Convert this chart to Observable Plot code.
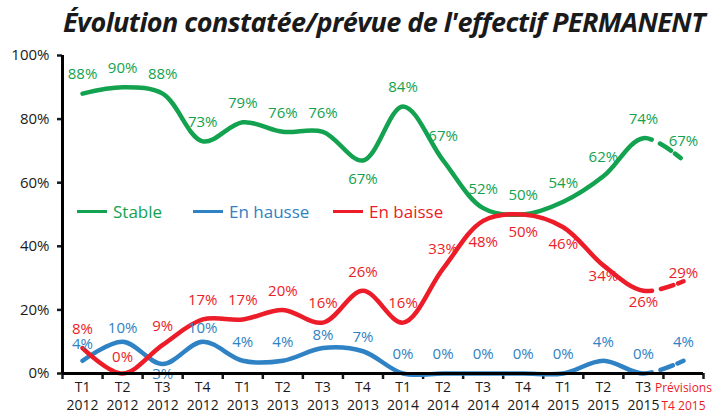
<!DOCTYPE html>
<html><head><meta charset="utf-8">
<script src="https://cdn.jsdelivr.net/npm/d3@7"></script>
<script src="https://cdn.jsdelivr.net/npm/@observablehq/plot@0.6"></script>
<style>
body{margin:0;background:#fff;font-family:"Open Sans",sans-serif;}
#wrap{position:relative;width:720px;height:416px;overflow:hidden;}
#title{position:absolute;top:3px;left:0;width:768px;text-align:center;font-size:27px;font-weight:700;font-style:italic;color:#1a1a1a;letter-spacing:-0.55px;white-space:nowrap;}
#chart{position:absolute;top:42px;left:0;}
#legend{position:absolute;top:200px;left:77px;font-size:17px;}
.item{position:absolute;top:0;white-space:nowrap;display:flex;align-items:center;}
.sw{display:inline-block;width:30px;height:3px;margin-right:6px;}
</style></head>
<body>
<div id="wrap">
<div id="title">Évolution constatée/prévue de l'effectif PERMANENT</div>
<div id="chart"></div>
<div id="legend"></div>
</div>
<script>
const categories = ["T1\n2012","T2\n2012","T3\n2012","T4\n2012","T1\n2013","T2\n2013","T3\n2013","T4\n2013","T1\n2014","T2\n2014","T3\n2014","T4\n2014","T1\n2015","T2\n2015","T3\n2015","Prévisions\nT4 2015"];
const seriesNames = ["Stable","En hausse","En baisse"];
const stable = [88,90,88,73,79,76,76,67,84,67,52,50,54,62,74,67];
const hausse = [4,10,3,10,4,4,8,7,0,0,0,0,0,4,0,4];
const baisse = [8,0,9,17,17,20,16,26,16,33,48,50,46,34,26,29];
const yTicks = [0,20,40,60,80,100];

const GREEN = "#13a24f", BLUE = "#2f82c4", RED = "#ec1c28";
const colors = [GREEN, BLUE, RED];
const values = [stable, hausse, baisse];
const n = categories.length;
const allIdx = d3.range(n);

// label placement (styling)
const belowSets = [[7], [2], [10,11,12,13,14]];
const dyBelow = {"0-7":19, "1-2":10, "2-10":21, "2-11":18, "2-12":17, "2-13":11, "2-14":11};
const dyAbove = {"2-1":-16, "2-15":-8, "1-1":-14, "1-3":-14, "1-6":-13, "1-7":-14, "1-0":-17, "2-0":-19, "0-9":-24};

const lineMarks = [], labelMarks = [];
values.forEach((vals, s) => {
  lineMarks.push(Plot.line(allIdx, {x: i => i, y: i => vals[i], curve: "catmull-rom", stroke: colors[s], strokeWidth: 4.5}));
  allIdx.forEach(i => {
    const key = s + "-" + i;
    const below = belowSets[s].includes(i);
    const dy = below ? (dyBelow[key] ?? 19) : (dyAbove[key] ?? -19);
    labelMarks.push(Plot.text([i], {x: i => i, y: i => vals[i], text: i => vals[i] + "%", fill: colors[s], fontSize: 15, dy}));
  });
});

const chart = Plot.plot({
  width: 720, height: 374,
  marginTop: 13, marginBottom: 43, marginLeft: 62, marginRight: 17,
  style: {fontFamily: "'Open Sans', sans-serif", background: "#fff", color: "#1a1a1a"},
  x: {domain: [-0.5, n - 0.5]},
  y: {domain: [0, 100]},
  marks: [
    Plot.axisY(yTicks, {tickFormat: d => d + "%", tickSize: 5, tickPadding: 8, fontSize: 15, strokeWidth: 2.5, fill: "#1a1a1a"}),
    Plot.axisX(d3.range(n - 1), {tickFormat: i => categories[i], tickSize: 0, tickPadding: 5, fontSize: 14, lineHeight: 1.33, fill: "#1a1a1a"}),
    Plot.axisX([n - 1], {tickFormat: i => categories[i], tickSize: 0, tickPadding: 6, fontSize: 12, lineHeight: 1.5, fill: RED}),
    Plot.axisX(d3.range(n + 1).map(i => i - 0.5), {tickFormat: () => "", tickSize: 6, strokeWidth: 2.5}),
    ...lineMarks,
    ...labelMarks,
    Plot.ruleX([-0.5], {stroke: "#000", strokeWidth: 3}),
    Plot.ruleY([0], {stroke: "#000", strokeWidth: 3})
  ]
});
document.getElementById("chart").append(chart);

// dash the forecast segment (last interval) of each curve
try {
  const xSplit = chart.scale("x").apply(n - 2);
  chart.querySelectorAll("g[aria-label='line'] path").forEach(p => {
    const total = p.getTotalLength();
    if (!(total > 0) || !isFinite(xSplit)) return;
    let lo = 0, hi = total;
    for (let k = 0; k < 40; k++) {
      const mid = (lo + hi) / 2;
      if (p.getPointAtLength(mid).x < xSplit) lo = mid; else hi = mid;
    }
    p.setAttribute("stroke-dasharray", `${(lo + 8).toFixed(1)} 9 13 5 7 300`);
  });
} catch (e) { console.error(e); }

const legend = document.getElementById("legend");
const lx = [0, 116, 256];
seriesNames.forEach((name, s) => {
  const it = document.createElement("div");
  it.className = "item";
  it.style.left = lx[s] + "px";
  it.style.color = colors[s];
  it.innerHTML = `<span class="sw" style="background:${colors[s]}"></span>${name}`;
  legend.append(it);
});
</script>
</body></html>
